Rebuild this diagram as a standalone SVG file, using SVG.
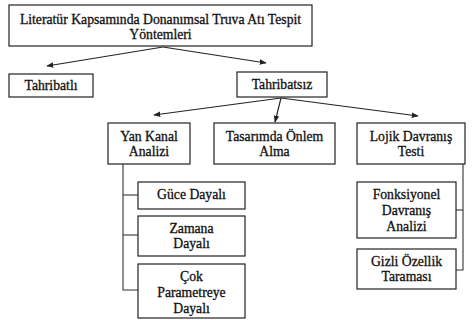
<svg xmlns="http://www.w3.org/2000/svg" width="473" height="320" viewBox="0 0 473 320">
<defs>
<marker id="ah" viewBox="0 0 10 10" refX="9" refY="5" markerWidth="7" markerHeight="7" orient="auto" markerUnits="userSpaceOnUse">
<path d="M0,1 L10,5 L0,9 z" fill="#222"/>
</marker>
<style>
.box{fill:#fff;stroke:#222;stroke-width:1.2}
.c{stroke:#333;stroke-width:1.1;fill:none}
.a{stroke:#222;stroke-width:1.1;fill:none;marker-end:url(#ah)}
text{font-family:'Liberation Serif','Times New Roman',serif;font-size:13.7px;fill:#111;stroke:#111;stroke-width:0.3;text-anchor:middle}
</style>
</defs>
<rect width="473" height="320" fill="#fff"/>
<g id="connectors">
<line class="a" x1="163" y1="47" x2="47" y2="66"/>
<line class="a" x1="163" y1="47" x2="266" y2="63"/>
<line class="a" x1="281" y1="98" x2="154" y2="115"/>
<line class="a" x1="281" y1="98" x2="275" y2="122"/>
<line class="a" x1="281" y1="98" x2="418" y2="116"/>
<polyline class="c" points="123,164 123,290 138,290"/>
<line class="c" x1="123" y1="195" x2="138" y2="195"/>
<line class="c" x1="123" y1="235" x2="138" y2="235"/>
<polyline class="c" points="463,164 463,270 456,270"/>
<line class="c" x1="463" y1="210" x2="456" y2="210"/>
</g>
<g id="root">
<rect class="box" x="9" y="5" width="303" height="41"/>
<text x="160.5" y="24">Literatür Kapsamında Donanımsal Truva Atı Tespit</text>
<text x="160.5" y="39">Yöntemleri</text>
</g>
<g id="tahribatli">
<rect class="box" x="9" y="74" width="84" height="23"/>
<text x="51" y="90">Tahribatlı</text>
</g>
<g id="tahribatsiz">
<rect class="box" x="237" y="72" width="90" height="25"/>
<text x="282" y="89">Tahribatsız</text>
</g>
<g id="yankanal">
<rect class="box" x="108" y="123" width="82" height="41"/>
<text x="149" y="141">Yan Kanal</text>
<text x="149" y="156">Analizi</text>
</g>
<g id="tasarim">
<rect class="box" x="214" y="123" width="121" height="41"/>
<text x="274.5" y="141">Tasarımda Önlem</text>
<text x="274.5" y="156">Alma</text>
</g>
<g id="lojik">
<rect class="box" x="357" y="123" width="108" height="41"/>
<text x="411" y="141">Lojik Davranış</text>
<text x="411" y="156">Testi</text>
</g>
<g id="guce">
<rect class="box" x="138" y="182" width="107" height="27"/>
<text x="191.5" y="199">Güce Dayalı</text>
</g>
<g id="zamana">
<rect class="box" x="138" y="216" width="107" height="40"/>
<text x="191.5" y="233">Zamana</text>
<text x="191.5" y="248">Dayalı</text>
</g>
<g id="cok">
<rect class="box" x="138" y="264" width="107" height="54"/>
<text x="191.5" y="281">Çok</text>
<text x="191.5" y="297">Parametreye</text>
<text x="191.5" y="313">Dayalı</text>
</g>
<g id="fonksiyonel">
<rect class="box" x="357" y="182" width="99" height="56"/>
<text x="406.5" y="199">Fonksiyonel</text>
<text x="406.5" y="215">Davranış</text>
<text x="406.5" y="231">Analizi</text>
</g>
<g id="gizli">
<rect class="box" x="357" y="249" width="99" height="40"/>
<text x="406.5" y="266">Gizli Özellik</text>
<text x="406.5" y="281">Taraması</text>
</g>
</svg>
